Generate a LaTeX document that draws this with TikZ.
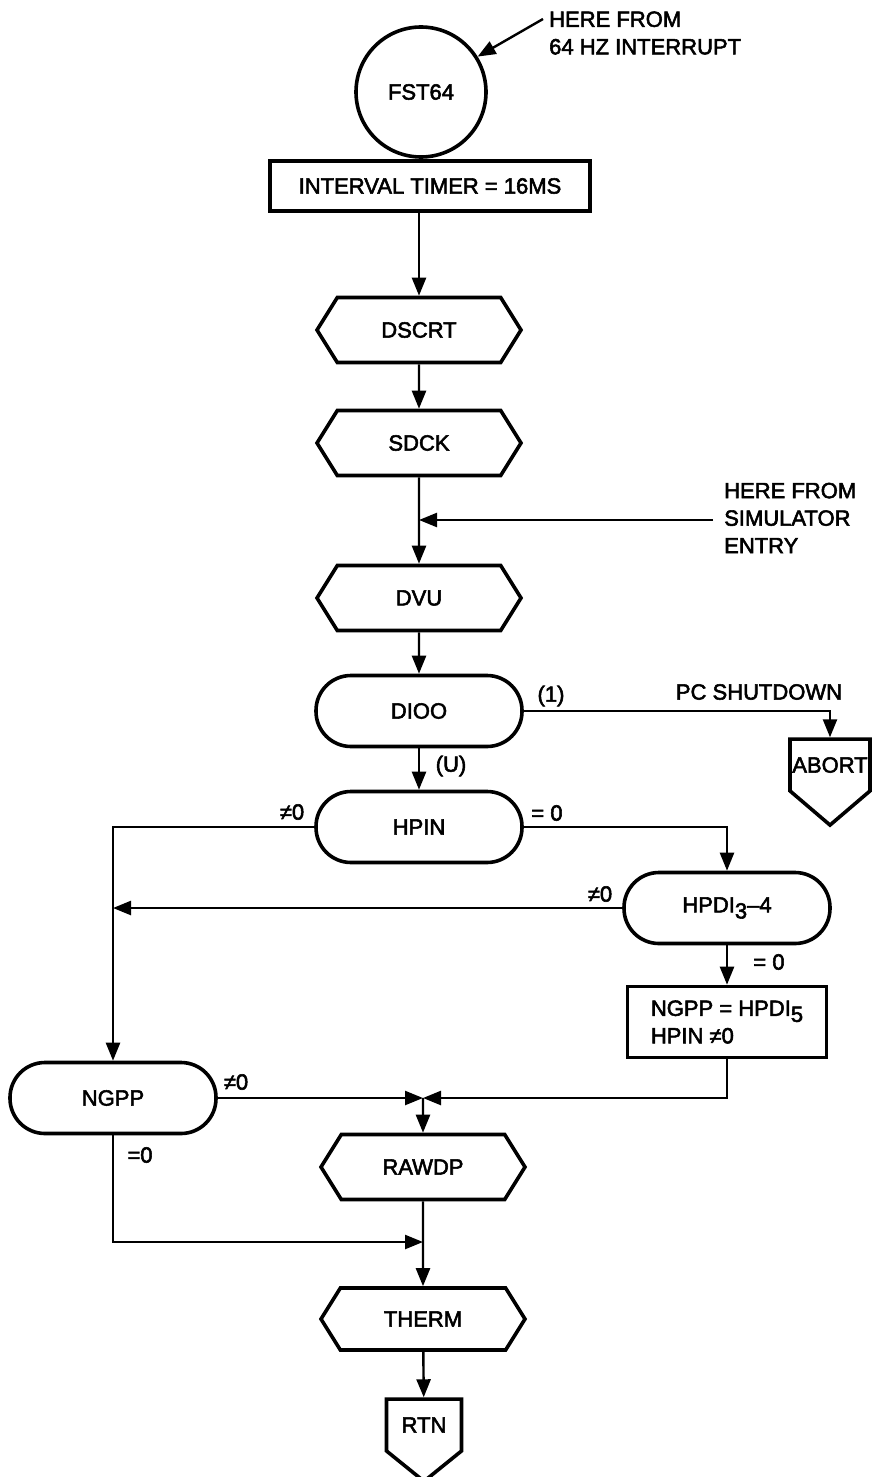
\documentclass[tikz,border=0pt]{standalone}
\usepackage{fontspec}
\setmainfont{Liberation Sans}[FakeBold=2.5]
\usetikzlibrary{arrows.meta,shapes.symbols}

\tikzset{
  term/.style={circle, draw, line width=3.6pt, minimum size=130pt, inner sep=0pt},
  procbox/.style={rectangle, draw, line width=3.6pt, inner sep=0pt},
  subr/.style={signal, signal to=east and west, signal pointer angle=116,
    draw, line width=3.6pt, minimum width=204pt, minimum height=65pt, inner sep=0pt},
  decide/.style={rectangle, rounded corners=35pt, draw, line width=3.6pt,
    minimum width=206pt, minimum height=71pt, inner sep=0pt},
  exitpt/.style={signal, signal to=south, draw, line width=3.6pt, inner sep=0pt},
  flow/.style={line width=2.4pt, -{Triangle[length=18pt,width=14pt]}},
  lbl/.style={inner sep=0pt}
}

\begin{document}
\begin{tikzpicture}[x=1pt,y=-1pt,font=\fontsize{22}{27.5}\selectfont]
\useasboundingbox (0,0) rectangle (874,1477);

% main column
\node[term] (fst) at (421,92) {FST64};
\node[procbox, minimum width=320pt, minimum height=50pt] (timer) at (430,186) {INTERVAL TIMER = 16MS};
\node[subr] (dscrt) at (419,330) {DSCRT};
\node[subr] (sdck) at (419,443) {SDCK};
\node[subr] (dvu) at (419,598) {DVU};
\node[decide] (dioo) at (419,711) {DIOO};
\node[exitpt, minimum width=80pt, minimum height=84pt, signal pointer angle=99] (abort) at (830,765) {ABORT};
\node[decide] (hpin) at (419,827) {HPIN};
\node[decide] (hpdi) at (727,908) {HPDI\raisebox{-6pt}{3}--4};
\node[procbox, align=left, minimum width=199pt, minimum height=71pt] (setngpp) at (727,1022)
  {NGPP = HPDI\raisebox{-6pt}{5}\\HPIN ≠0};
\node[decide] (ngpp) at (113,1098) {NGPP};
\node[subr] (rawdp) at (423,1167) {RAWDP};
\node[subr, minimum height=62pt] (therm) at (423,1319) {THERM};
\node[exitpt, minimum width=75pt, minimum height=70pt, signal pointer angle=102] (rtn) at (424,1425) {RTN};

% entry points and junctions
\coordinate (intsrc) at (543,19);
\coordinate (simsrc) at (713,520);
\coordinate (join) at (423,1098);
\coordinate (merge) at (423,1242);

\node[lbl, anchor=west, align=left] (lint) at (549,33) {HERE FROM\\64 HZ INTERRUPT};
\node[lbl, anchor=west, align=left] (lsim) at (724,518) {HERE FROM\\SIMULATOR\\ENTRY};

% connectors
\draw[flow] (intsrc) -- (fst.32);
\draw[flow] (timer.south -| dscrt) -- (dscrt.north);
\draw[flow] (dscrt) -- (sdck);
\draw[flow] (sdck) -- (dvu);
\draw[flow] (simsrc) -- (simsrc -| sdck);
\draw[flow] (dvu) -- (dioo);
\draw[flow] (dioo) -- (hpin);
\draw[flow] (dioo.east) -| (abort.north);
\draw[flow] (hpin.west) -| (ngpp.north);
\draw[flow] (hpin.east) -| (hpdi.north);
\draw[flow] (hpdi.west) -- (hpdi.west -| ngpp.north);
\draw[flow] (hpdi) -- (setngpp);
\draw[flow] (setngpp.south) |- (join);
\draw[flow] (ngpp.east) -- (join);
\draw[flow] (join) -- (rawdp);
\draw[flow] (rawdp) -- (therm);
\draw[flow] (ngpp.south) |- (merge);
\draw[flow] (therm) -- (rtn);

% branch labels
\node[lbl] (lone) at (551,696) {(1)};
\node[lbl] (lpcs) at (759,692) {PC SHUTDOWN};
\node[lbl] (lu) at (451,766) {(U)};
\node[lbl] (lhpinne) at (292,812) {≠0};
\node[lbl] (lhpineq) at (547,813) {= 0};
\node[lbl] (lhpdine) at (600,894) {≠0};
\node[lbl] (lhpdieq) at (769,962) {= 0};
\node[lbl] (lngppne) at (236,1082) {≠0};
\node[lbl] (lngppeq) at (140,1155) {=0};
\end{tikzpicture}
\end{document}
